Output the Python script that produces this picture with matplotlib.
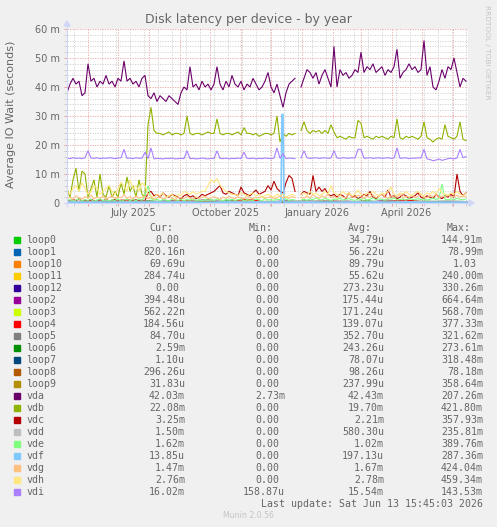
import numpy as np
import matplotlib.pyplot as plt
from matplotlib.patches import Rectangle, Polygon
from matplotlib.lines import Line2D
from datetime import datetime, timedelta

nan = np.nan

# time axis: one point every 3 days, starting 2025-05-11
start = datetime(2025, 5, 11)
n3 = 134

vda = [38, 41, 43, 41, 42, 37, 38, 48, 42, 43,
       40, 42, 41, 44, 41, 42, 40, 43, 42, 49,
       42, 43, 41, 42, 40, 43, 44, 37, 36, 38,
       35, 37, 36, 35, 37, 36, 35, 34, 38, 40,
       39, 47, 40, 41, 39, 42, 40, 41, 39, 41,
       47, 41, 39, 42, 40, 44, 41, 40, 42, 39,
       41, 40, 43, 41, 39, 40, 42, 45, 40, 38,
       41, 37, 33, 38, 41, 42, 43, nan, 40, 43,
       46, 45, 43, 45, 41, 44, 46, 43, 40, 54,
       40, 46, 44, 45, 43, 44, 46, 45, 52, 45,
       47, 46, 48, 45, 46, 47, 44, 46, 45, 47,
       53, 43, 45, 46, 48, 46, 47, 45, 46, 56,
       44, 47, 40, 39, 42, 46, 43, 47, 46, 50,
       45, 40, 43, 42]

vdb = [5, 2, 8, 12, 4, 11, 10, 2, 5, 8,
       2, 10, 3, 2, 6, 2, 4, 2, 7, 3,
       9, 4, 6, 2, 8, 3, 2, 27, 33, 25,
       24, 24, 23.5, 24, 24.5, 23.5, 24, 24, 23.5, 24,
       30, 24, 23.5, 24, 24, 23.5, 24, 24.5, 24, 24,
       29, 24, 23.5, 24, 24, 23.5, 24, 24.5, 23.5, 26,
       24, 24, 23.5, 24, 23, 23.5, 24, 24, 23.5, 24,
       30, 21, 24, 23, 24, 23.5, 24, nan, 25, 28,
       25, 24, 25, 24.5, 25, 24, 25, 24, 27, 24.5,
       22.5, 23, 22.5, 22, 23, 22.5, 22.5, 28.5, 27.5, 22.5,
       23, 22.5, 22, 23, 22.5, 23, 22.5, 22, 23, 22.5,
       29, 22.5, 22, 23, 22.5, 23, 22.5, 22, 23, 28,
       22.5, 22, 21, 22, 22.5, 22, 27, 23, 22.5, 22,
       23, 28, 22, 21.5]

vdi = [15.5, 15.3, 15.6, 15.4, 15.5, 15.3, 15.6, 18, 15.5, 15.4,
       15.6, 15.3, 15.5, 15.4, 15.6, 15.5, 15.3, 15.5, 15.6, 18.5,
       15.4, 15.5, 15.3, 15.6, 15.4, 15.5, 17.5, 15.3, 19, 15.2,
       15.4, 15.3, 15.2, 15.4, 15.3, 15.5, 15.2, 15.3, 15.4, 15.3,
       18, 15.3, 15.4, 15.2, 15.3, 15.5, 15.3, 15.2, 15.4, 15.3,
       18, 15.4, 15.3, 15.5, 15.2, 15.4, 15.3, 15.5, 15.3, 17.5,
       15.4, 15.3, 15.5, 15.2, 15.4, 15.3, 15.5, 15.4, 15.3, 15.5,
       19, 15.4, 17, 15.3, 15.5, 15.4, 15.3, nan, 15.5, 18,
       15.6, 15.4, 15.5, 15.6, 15.4, 15.5, 15.6, 15.4, 15.5, 18,
       15.5, 15.4, 15.6, 15.5, 15.4, 15.6, 15.5, 18.5, 18.5, 15.4,
       15.5, 15.6, 15.4, 15.5, 15.6, 15.4, 15.5, 15.6, 15.4, 15.5,
       19, 15.4, 15.5, 15.6, 15.3, 15.5, 15.4, 15.6, 15.5, 18.5,
       15.2, 15, 14.6, 14.8, 15.2, 14.7, 15, 15.3, 15.4, 15.2,
       15.5, 18.5, 15.6, 16]

vdc = [1, 0.6, 1.2, 0.8, 1.5, 0.7, 1, 0.6, 1.3, 0.8,
       0.5, 1.1, 0.7, 1.4, 0.6, 0.9, 1.2, 0.5, 1, 0.8,
       1.3, 0.6, 0.9, 1.1, 0.7, 1, 0.8, 3.5, 4, 2.5,
       3, 2, 3.5, 2.5, 2, 3, 2.5, 2, 1.5, 2.5,
       3, 2, 2.5, 1.5, 2, 3, 2.5, 3, 3.5, 4,
       5, 6, 3.5, 3, 4, 3.5, 3, 2.5, 5.5, 3.5,
       3, 2.5, 3.5, 4.5, 3, 3.5, 4, 6, 4.5, 7.5,
       5, 4, 3.5, 7, 9.5, 8.5, 4, nan, 3, 4,
       3.5, 3, 9.5, 4, 5.5, 4, 5, 3, 2.5, 3,
       2, 3, 2.5, 1.5, 3.5, 2, 2.5, 1.5, 2, 3,
       2.5, 4, 2, 1.5, 2.5, 3, 2, 4.5, 2, 2.5,
       1.5, 2, 3, 2.5, 1.5, 2, 2.5, 3.5, 2, 1.5,
       2.5, 2, 1.5, 3, 2, 1.5, 2.5, 2, 3, 2,
       10, 4, 2.5, 3.5]

vdh = [4, 3, 5, 6, 4, 7, 5, 3, 4, 6,
       5, 3, 4, 5, 6, 4, 3, 5, 7, 6,
       4, 8, 5, 6, 4, 7, 6, 3, 2.5, 2,
       3, 2.5, 3.5, 2, 2.5, 3, 2, 3, 2.5, 4,
       3.5, 3, 4, 3, 3.5, 4, 4, 6, 8, 7,
       8.5, 6, 5, 4, 3.5, 3, 3, 2.5, 3.5, 3,
       2.5, 3, 3.5, 2.5, 3, 2, 2.5, 3, 2.5, 2,
       3, 2.5, 3, 2, 2.5, 3, 2.5, nan, 3, 3.5,
       2.5, 4, 3, 3.5, 2.5, 3, 4, 3, 6, 3.5,
       3, 2.5, 4, 3, 3.5, 2.5, 3, 4.5, 3, 2.5,
       3.5, 3, 4, 3, 2.5, 3.5, 3, 4, 5.5, 3,
       2.5, 3.5, 3, 4, 3, 2.5, 3.5, 4, 3, 2.5,
       3.5, 3, 4, 3, 5, 3.5, 3, 2.5, 3.5, 3,
       4, 3, 2.5, 3.5]

vdg = [1.5, 2, 1.2, 2.5, 1.8, 1.3, 2.2, 1.6, 2.8, 1.4,
       2, 1.7, 2.4, 1.3, 1.9, 2.6, 1.5, 2.1, 1.8, 2.9,
       1.6, 2.2, 1.4, 2.5, 1.7, 2, 2.3, 1.5, 2, 1.3,
       1.8, 2.2, 1.4, 1.7, 2.5, 1.6, 1.2, 2, 1.8, 1.5,
       2.3, 1.7, 1.4, 2.1, 1.6, 1.9, 2.4, 1.5, 1.8, 2.2,
       1.7, 1.3, 2, 1.6, 2.3, 1.8, 1.5, 2.1, 1.7, 1.4,
       2.6, 1.8, 1.5, 2, 1.7, 2.3, 1.6, 1.9, 2.2, 1.5,
       1.8, 2.5, 1.7, 2, 1.6, 2.2, 1.9, nan, 2, 1.7,
       2.4, 1.8, 2.9, 2.1, 1.6, 2.5, 2, 3, 1.8, 2.3,
       1.7, 2.6, 2, 1.8, 3.2, 2.2, 1.9, 2.7, 2.1, 1.6,
       2.4, 2, 2.8, 1.8, 2.3, 3, 2.1, 1.7, 2.5, 2,
       2.2, 2.9, 1.8, 2.4, 2, 2.7, 1.9, 2.3, 3.1, 2,
       1.8, 2.6, 2.2, 2.9, 1.9, 2.4, 2.1, 2.8, 2, 2.3,
       2.6, 2.1, 2.4, 2.2]

vde = [0.8, 1.2, 0.6, 1, 1.4, 0.7, 1.1, 0.9, 1.3, 0.6,
       1, 1.5, 0.8, 1.2, 0.7, 1.1, 0.9, 1.4, 0.6, 1,
       1.3, 0.8, 1.2, 0.7, 1.5, 0.9, 2.5, 6, 1.5, 1,
       1.3, 0.8, 1.2, 1, 0.7, 1.4, 1.1, 0.9, 1.3, 0.8,
       1.2, 1, 1.5, 0.9, 1.1, 0.8, 1.3, 1, 1.2, 0.9,
       1.4, 1.1, 0.8, 1.2, 1, 1.3, 0.9, 1.1, 1.4, 0.8,
       1.2, 1, 0.9, 1.3, 1.1, 0.8, 1.5, 1, 1.2, 0.9,
       1.3, 1.1, 1, 1.4, 0.9, 1.2, 1, nan, 1, 1.3,
       0.9, 1.5, 1.1, 1.8, 1.2, 1, 1.6, 1.3, 0.9, 1.4,
       1.2, 1.7, 1, 1.3, 1.5, 1.1, 0.9, 1.4, 1.2, 1.6,
       1, 1.3, 1.8, 1.1, 1.4, 1.2, 1, 1.5, 1.3, 1.7,
       1.1, 1.2, 1.4, 1, 1.6, 1.3, 1.1, 1.5, 1.2, 1.4,
       1, 1.3, 1.7, 1.2, 1.5, 6.5, 1.3, 1.1, 1.4, 1.2,
       1.6, 1.3, 1.1, 1.4]

# low devices, one point every 20 days
loop0 = [0.1, 0.3, 0.2, 0.5, 0.1, 0.4, 0.2, 0.6, 0.1, 0.3, 0.2, 0.4, 0.1, 0.5, 0.2, 0.3, 0.1, 0.4, 0.2, 0.3, 0.1]
loop1 = [0.2, 0.1, 0.4, 0.2, 0.3, 0.1, 0.5, 0.2, 0.3, 0.1, 0.4, 0.2, 0.1, 0.3, 0.2, 0.4, 0.1, 0.2, 0.3, 0.1, 0.2]
loop10 = [0.3, 0.2, 0.1, 0.6, 0.2, 0.3, 0.1, 0.4, 0.2, 0.8, 0.1, 0.3, 0.2, 0.4, 0.1, 0.3, 0.2, 0.5, 0.1, 0.3, 0.2]
loop11 = [0.2, 0.4, 0.1, 0.3, 0.2, 0.5, 0.1, 0.3, 0.4, 0.2, 0.1, 0.3, 0.2, 0.6, 0.1, 0.2, 0.4, 0.1, 0.3, 0.2, 0.3]
loop12 = [0.4, 0.6, 0.3, 0.5, 0.2, 0.7, 0.4, 0.3, 0.6, 0.2, 0.5, 0.3, 0.4, 0.7, 0.3, 0.5, 0.2, 0.6, 0.4, 0.3, 0.5]
loop2 = [0.5, 0.2, 0.9, 0.3, 0.6, 0.1, 0.4, 1.2, 0.2, 0.5, 0.3, 0.8, 0.2, 0.4, 0.6, 0.2, 1, 0.3, 0.5, 0.2, 0.4]
loop3 = [0.3, 0.5, 0.2, 0.4, 0.7, 0.2, 0.3, 0.5, 0.2, 0.6, 0.3, 0.2, 0.5, 0.3, 0.4, 0.2, 0.6, 0.3, 0.2, 0.4, 0.3]
loop4 = [0.2, 0.8, 0.3, 1.1, 0.2, 0.5, 0.9, 0.2, 0.4, 1.3, 0.3, 0.6, 0.2, 0.9, 0.4, 0.2, 0.7, 1, 0.3, 0.5, 0.4]
loop5 = [0.6, 0.4, 0.8, 0.5, 0.3, 0.7, 0.5, 0.9, 0.4, 0.6, 0.3, 0.5, 0.8, 0.4, 0.6, 0.3, 0.7, 0.5, 0.4, 0.6, 0.5]
loop6 = [0.5, 0.3, 0.6, 0.4, 0.8, 0.3, 0.5, 0.2, 0.7, 0.4, 0.3, 0.6, 0.2, 0.5, 0.4, 0.7, 0.3, 0.5, 0.6, 0.3, 0.4]
loop7 = [0.1, 0.2, 0.1, 0.3, 0.1, 0.2, 0.1, 0.2, 0.3, 0.1, 0.2, 0.1, 0.3, 0.1, 0.2, 0.1, 0.2, 0.1, 0.3, 0.1, 0.2]
loop8 = [0.2, 0.3, 0.1, 0.2, 0.4, 0.1, 0.3, 0.2, 0.1, 0.3, 0.2, 0.4, 0.1, 0.2, 0.3, 0.1, 0.2, 0.4, 0.1, 0.3, 0.2]
loop9 = [0.4, 0.2, 0.6, 0.3, 0.5, 0.2, 0.7, 0.3, 0.4, 0.2, 0.6, 0.3, 0.5, 0.2, 0.4, 0.6, 0.2, 0.5, 0.3, 0.4, 0.3]
vdd = [0.6, 0.4, 0.8, 0.5, 0.7, 0.4, 0.6, 0.9, 0.5, 0.6, 0.4, 0.7, 0.5, 0.8, 0.6, 0.4, 0.7, 0.5, 0.6, 0.8, 0.5]

# vdf has one tall spike in December
vdf_days = [0, 20, 40, 60, 80, 100, 120, 140, 160, 180, 200, 214, 215, 216, 217, 240, 260, 280, 300, 320, 340, 360, 380, 400]
vdf = [0.3, 0.2, 0.3, 0.2, 0.3, 0.2, 0.3, 0.2, 0.3, 0.2, 0.3, 0.3, 30.5, 30.5, 0.3, 0.2, 0.3, 0.2, 0.3, 0.2, 0.3, 0.2, 0.3, 0.2]

names = ['loop0', 'loop1', 'loop10', 'loop11', 'loop12', 'loop2', 'loop3', 'loop4', 'loop5', 'loop6', 'loop7',
         'loop8', 'loop9', 'vda', 'vdb', 'vdc', 'vdd', 'vde', 'vdf', 'vdg', 'vdh', 'vdi']
colors = ['#00CC00', '#0066B3', '#FF8000', '#FFCC00', '#330099', '#990099', '#CCFF00', '#FF0000', '#808080',
          '#008F00', '#00487D', '#B35A00', '#B38F00', '#6B006B', '#8FB300', '#B30000', '#BEBEBE', '#80FF80',
          '#80C9FF', '#FFC080', '#FFE680', '#AA80FF']
cur = ['0.00', '820.16n', '69.69u', '284.74u', '0.00', '394.48u', '562.22n', '184.56u', '84.70u', '2.59m', '1.10u',
       '296.26u', '31.83u', '42.03m', '22.08m', '3.25m', '1.50m', '1.62m', '13.85u', '1.47m', '2.76m', '16.02m']
mins = ['0.00', '0.00', '0.00', '0.00', '0.00', '0.00', '0.00', '0.00', '0.00', '0.00', '0.00',
        '0.00', '0.00', '2.73m', '0.00', '0.00', '0.00', '0.00', '0.00', '0.00', '0.00', '158.87u']
avgs = ['34.79u', '56.22u', '89.79u', '55.62u', '273.23u', '175.44u', '171.24u', '139.07u', '352.70u', '243.26u',
        '78.07u', '98.26u', '237.99u', '42.43m', '19.70m', '2.21m', '580.30u', '1.02m', '197.13u', '1.67m',
        '2.78m', '15.54m']
maxs = ['144.91m', '78.99m', '1.03', '240.00m', '330.26m', '664.64m', '568.70m', '377.33m', '321.62m', '273.61m',
        '318.48m', '78.18m', '358.64m', '207.26m', '421.80m', '357.93m', '235.81m', '389.76m', '287.36m', '424.04m',
        '459.34m', '143.53m']

for s in (vda, vdb, vdi, vdc, vdh, vdg, vde):
    assert len(s) == n3, len(s)

W, H = 497, 527
FONT = '#666666'
MONO = 'DejaVu Sans Mono'

def fx(x):
    return x / W

def fy(y):
    return 1 - y / H

dates3 = [start + timedelta(days=3 * i) for i in range(n3)]
dates20 = [start + timedelta(days=20 * i) for i in range(21)]
datesf = [start + timedelta(days=d) for d in vdf_days]

fig = plt.figure(figsize=(W / 100, H / 100), dpi=100, facecolor='#F0F0F0')
ax = fig.add_axes([fx(67), fy(203), 401 / W, 174 / H])
ax.set_facecolor('white')
for sp in ax.spines.values():
    sp.set_visible(False)

ax.set_xlim(start, start + timedelta(days=401))
ax.set_ylim(0, 60)

# grid
month_starts = [datetime(2025, m, 1) for m in range(6, 13)] + [datetime(2026, m, 1) for m in range(1, 7)]
minor_x = [datetime(2025, 5, 18) + timedelta(days=14 * k) for k in range(29)]
minor_x = [d for d in minor_x if d not in month_starts and d < start + timedelta(days=401)]
ax.set_xticks(month_starts)
ax.set_xticks(minor_x, minor=True)
ax.set_xticklabels([])
ax.set_yticks(range(0, 61, 10))
ax.set_yticks([v for v in range(2, 60, 2) if v % 10], minor=True)
ax.set_yticklabels(['0'] + ['%d m' % v for v in range(10, 61, 10)])
ax.tick_params(axis='y', which='major', length=2, width=0.7, color='#e8a0a0', pad=3.2, labelsize=7, labelcolor=FONT)
ax.tick_params(axis='y', which='minor', length=2, width=0.7, color='#cccccc')
ax.tick_params(axis='x', which='major', length=2, width=0.7, color='#e8a0a0')
ax.tick_params(axis='x', which='minor', length=2, width=0.7, color='#cccccc')
ax.grid(which='minor', color='#cfcfcf', linewidth=0.6, linestyle=(0, (1.5, 1.5)))
ax.grid(which='major', color='#eba3a3', linewidth=0.6, linestyle=(0, (1.5, 1.5)))
ax.set_axisbelow(True)

# month labels, centered in the middle of the month
for d, lab in [(datetime(2025, 7, 16), 'July 2025'), (datetime(2025, 10, 16), 'October 2025'),
               (datetime(2026, 1, 16), 'January 2026'), (datetime(2026, 4, 15), 'April 2026')]:
    ax.text(d, -10 / 174, lab, transform=ax.get_xaxis_transform(), ha='center', va='center',
            fontsize=7, color=FONT)

# series, drawn in legend order
series = {
    'loop0': (dates20, loop0), 'loop1': (dates20, loop1), 'loop10': (dates20, loop10),
    'loop11': (dates20, loop11), 'loop12': (dates20, loop12), 'loop2': (dates20, loop2),
    'loop3': (dates20, loop3), 'loop4': (dates20, loop4), 'loop5': (dates20, loop5),
    'loop6': (dates20, loop6), 'loop7': (dates20, loop7), 'loop8': (dates20, loop8),
    'loop9': (dates20, loop9), 'vda': (dates3, vda), 'vdb': (dates3, vdb), 'vdc': (dates3, vdc),
    'vdd': (dates20, vdd), 'vde': (dates3, vde), 'vdf': (datesf, vdf), 'vdg': (dates3, vdg),
    'vdh': (dates3, vdh), 'vdi': (dates3, vdi),
}
for name, col in zip(names, colors):
    xs, ys = series[name]
    lw = 1.2 if name == 'vdf' else 0.8
    ax.plot(xs, ys, color=col, linewidth=lw, solid_joinstyle='miter')

# axis lines with arrows
AX = '#CFD6F8'
fig.add_artist(Line2D([fx(64), fx(469)], [fy(203), fy(203)], color=AX, linewidth=0.8))
fig.add_artist(Polygon([[fx(469), fy(200)], [fx(474), fy(203)], [fx(469), fy(206)]], closed=True, color=AX))
fig.add_artist(Line2D([fx(67), fx(67)], [fy(206), fy(26)], color=AX, linewidth=0.8))
fig.add_artist(Polygon([[fx(64), fy(26)], [fx(67), fy(21)], [fx(70), fy(26)]], closed=True, color=AX))

# titles
fig.text(fx(248), fy(20), 'Disk latency per device - by year', ha='center', va='center', fontsize=9, color=FONT)
fig.text(fx(11), fy(114), 'Average IO Wait (seconds)', rotation=90, ha='center', va='center',
         fontsize=8, color=FONT)
fig.text(fx(487), fy(5), 'RRDTOOL / TOBI OETIKER', rotation=270, ha='center', va='top',
         fontsize=5.3, color='#c4c4c4')

# legend
CW = 5.97
col_end = [185, 285, 384, 483]
for head, e in zip(['Cur:', 'Min:', 'Avg:', 'Max:'], col_end):
    fig.text(fx(e - 2 * CW), fy(228), head, ha='right', va='center', fontsize=7.15, family=MONO, color=FONT)

for k, (name, col) in enumerate(zip(names, colors)):
    y = 240 + 12 * k
    fig.add_artist(Rectangle((fx(14), fy(y + 3)), 6 / W, 6 / H, color=col))
    fig.text(fx(26.5), fy(y), name, ha='left', va='center', fontsize=7.15, family=MONO, color=FONT)
    for val, e in zip([cur[k], mins[k], avgs[k], maxs[k]], col_end):
        xe = e if val[-1].isalpha() else e - CW
        fig.text(fx(xe), fy(y), val, ha='right', va='center', fontsize=7.15, family=MONO, color=FONT)

fig.text(fx(483), fy(504), 'Last update: Sat Jun 13 15:45:03 2026', ha='right', va='center',
         fontsize=7.15, family=MONO, color=FONT)
fig.text(fx(248), fy(516), 'Munin 2.0.56', ha='center', va='center', fontsize=5.6, color='#c4c4c4')

fig.savefig('out.png', dpi=100, facecolor=fig.get_facecolor())
